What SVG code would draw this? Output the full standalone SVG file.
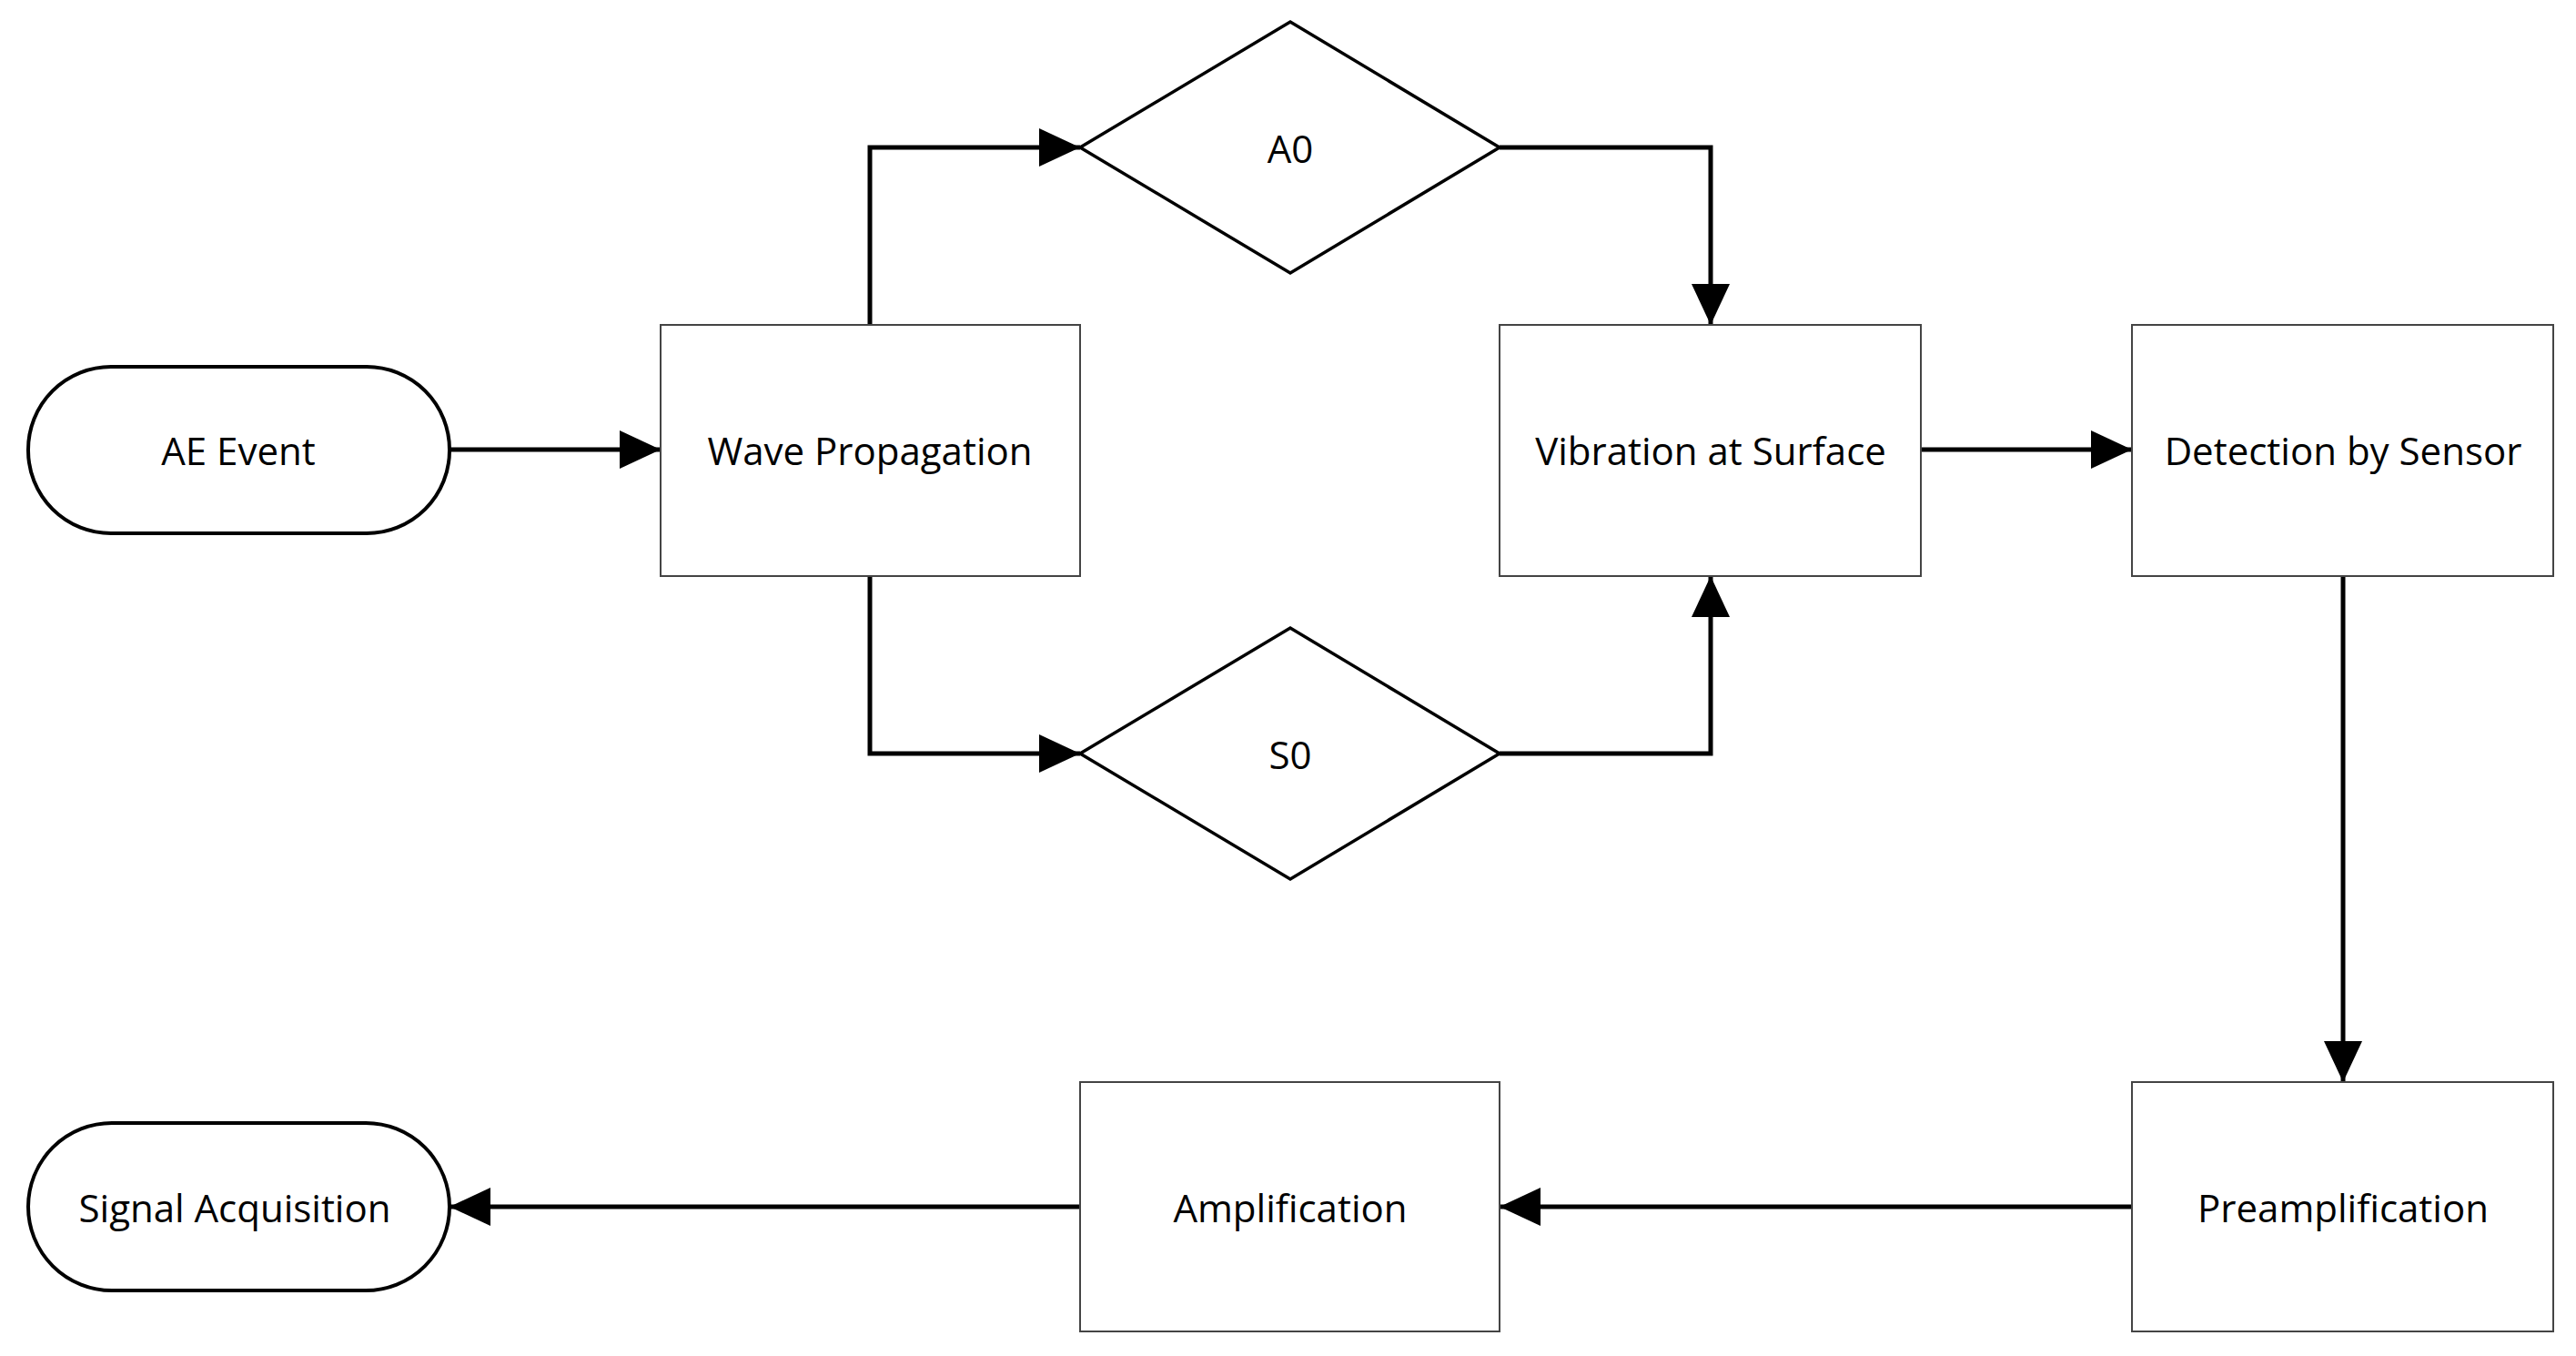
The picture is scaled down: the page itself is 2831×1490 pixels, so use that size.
<svg xmlns="http://www.w3.org/2000/svg" width="2831" height="1490" viewBox="0 0 2831 1490">
<style>
.box{fill:#fff;stroke:#444;stroke-width:2}
.term{fill:#fff;stroke:#000;stroke-width:4}
.dia{fill:#fff;stroke:#000;stroke-width:3.5}
.lbl{font-family:"Open Sans","Liberation Sans",sans-serif;font-size:42px;fill:#000;text-anchor:middle;dominant-baseline:central}
.edge{fill:none;stroke:#000;stroke-width:5;marker-end:url(#ah)}
</style>
<defs>
<marker id="ah" markerUnits="userSpaceOnUse" markerWidth="46" markerHeight="42" refX="45" refY="21" orient="auto"><path d="M0,0 L45,21 L0,42 Z" fill="#000"/></marker>
</defs>
<rect width="2831" height="1490" fill="#fff"/>
<g id="connectors">
<path class="edge" d="M494,494 H726"/>
<path class="edge" d="M956,357 V162 H1187"/>
<path class="edge" d="M956,633 V828 H1187"/>
<path class="edge" d="M1648,162 H1880 V357"/>
<path class="edge" d="M1648,828 H1880 V633"/>
<path class="edge" d="M2111,494 H2343"/>
<path class="edge" d="M2575,633 V1189"/>
<path class="edge" d="M2343,1326 H1648"/>
<path class="edge" d="M1187,1326 H494"/>
</g>
<g id="ae-event"><rect class="term" x="31" y="403" width="463" height="183" rx="91" ry="91"/><text class="lbl" x="262" y="494">AE Event</text></g>
<g id="wave-propagation"><rect class="box" x="726" y="357" width="461" height="276"/><text class="lbl" x="956" y="494">Wave Propagation</text></g>
<g id="a0"><polygon class="dia" points="1187,162 1418,24 1648,162 1418,300"/><text class="lbl" x="1418" y="162">A0</text></g>
<g id="s0"><polygon class="dia" points="1187,828 1418,690 1648,828 1418,966"/><text class="lbl" x="1418" y="828">S0</text></g>
<g id="vibration"><rect class="box" x="1648" y="357" width="463" height="276"/><text class="lbl" x="1880" y="494">Vibration at Surface</text></g>
<g id="detection"><rect class="box" x="2343" y="357" width="463" height="276"/><text class="lbl" x="2575" y="494">Detection by Sensor</text></g>
<g id="preamplification"><rect class="box" x="2343" y="1189" width="463" height="274"/><text class="lbl" x="2575" y="1326">Preamplification</text></g>
<g id="amplification"><rect class="box" x="1187" y="1189" width="461" height="274"/><text class="lbl" x="1418" y="1326">Amplification</text></g>
<g id="signal-acquisition"><rect class="term" x="31" y="1234" width="463" height="184" rx="92" ry="92"/><text class="lbl" x="258" y="1326">Signal Acquisition</text></g>
</svg>
